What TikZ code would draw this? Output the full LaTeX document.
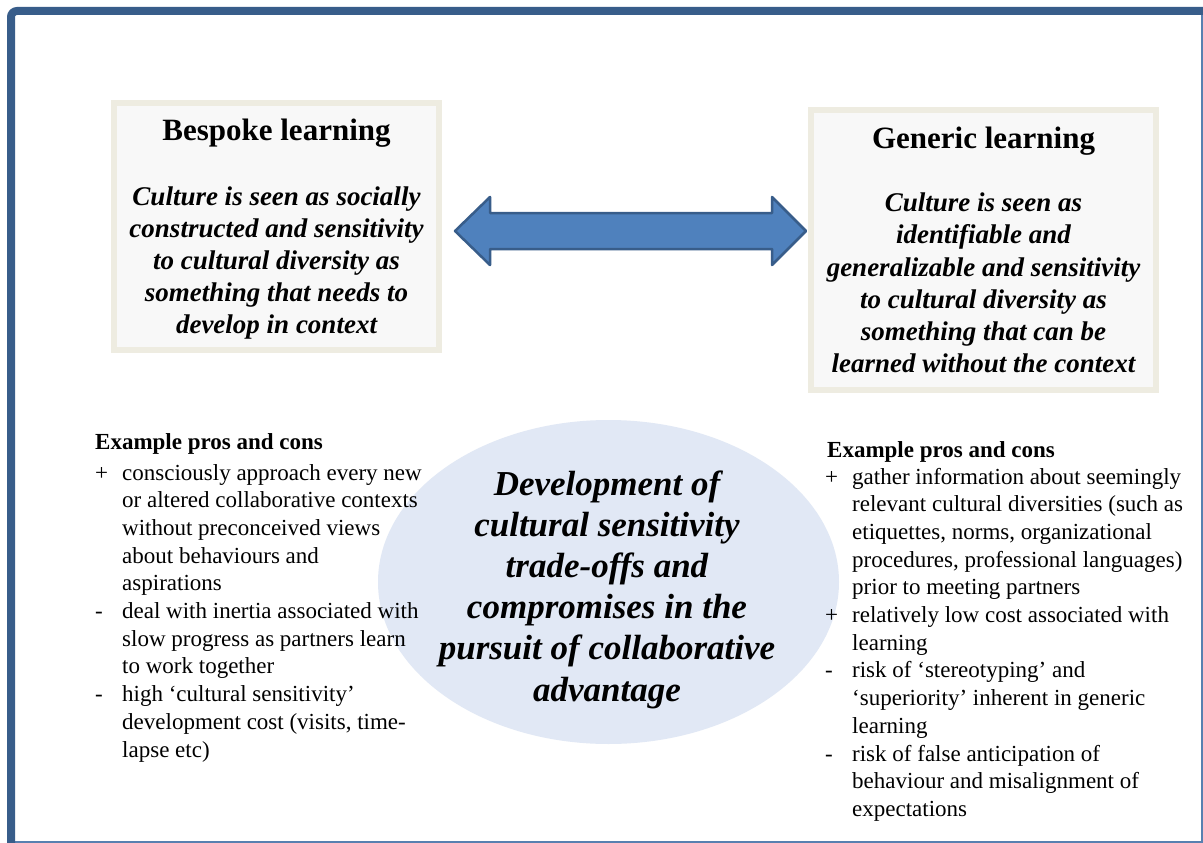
\documentclass[tikz,border=0pt]{standalone}
\usepackage{fontspec}
\setmainfont{Liberation Serif}
\usetikzlibrary{shapes.geometric}
\definecolor{frameblue}{RGB}{56,93,138}
\definecolor{framethin}{RGB}{88,128,176}
\definecolor{boxborder}{RGB}{238,236,225}
\definecolor{boxfill}{RGB}{248,248,248}
\definecolor{arrowfill}{RGB}{79,129,189}
\definecolor{arrowline}{RGB}{56,93,138}
\definecolor{ellfill}{RGB}{225,232,245}
\tikzset{
  learnbox/.style={draw=boxborder, line width=6pt, fill=boxfill, inner sep=0pt},
  titletext/.style={anchor=base, inner sep=0pt, font=\fontsize{31}{32}\selectfont\bfseries},
  bodytext/.style={anchor=base, inner sep=0pt, font=\fontsize{27}{32.15}\selectfont\bfseries\itshape},
  centertext/.style={anchor=base, inner sep=0pt, font=\fontsize{35}{41.2}\selectfont\bfseries\itshape},
  listhead/.style={anchor=base west, inner sep=0pt, font=\fontsize{23}{27.7}\selectfont\bfseries},
  listtext/.style={anchor=base west, inner sep=0pt, font=\fontsize{23}{27.7}\selectfont},
}
\begin{document}
\begin{tikzpicture}[x=1pt,y=-1pt]
\useasboundingbox (0,0) rectangle (1203,843);
\fill[white] (0,0) rectangle (1203,843);
% outer frame
\draw[framethin, line width=1.5pt] (1202,15) -- (1202,842) -- (15,842);
\draw[frameblue, line width=8pt, rounded corners=6pt] (1203,11) -- (11,11) -- (11,843);

% boxes
\node[learnbox, minimum width=325pt, minimum height=247pt] (bespoke) at (276.5,226.5) {};
\node[learnbox, minimum width=345pt, minimum height=280pt] (generic) at (983.5,250) {};

\node[titletext] (bespoketitle) at (276.5,140) {Bespoke learning};
\node[bodytext] (bespokebody) at (276.5,205) {\begin{tabular}[t]{@{}c@{}}
Culture is seen as socially\\
constructed and sensitivity\\
to cultural diversity as\\
something that needs to\\
develop in context
\end{tabular}};

\node[titletext] (generictitle) at (983.5,148) {Generic learning};
\node[bodytext] (genericbody) at (983.5,211.7) {\begin{tabular}[t]{@{}c@{}}
Culture is seen as\\
identifiable and\\
generalizable and sensitivity\\
to cultural diversity as\\
something that can be\\
learned without the context
\end{tabular}};

% double arrow
\draw[arrowline, fill=arrowfill, line width=2.5pt, line join=round]
  (455,231) -- (490,197) -- (490,213) -- (772,213) -- (772,197) -- (806,231)
  -- (772,265) -- (772,249) -- (490,249) -- (490,265) -- cycle;

% central ellipse
\node[ellipse, fill=ellfill, minimum width=461pt, minimum height=324pt, inner sep=0pt] (trade) at (608.5,582) {};
\node[centertext] (tradetext) at (607,495) {\begin{tabular}[t]{@{}c@{}}
Development of\\
cultural sensitivity\\
trade-offs and\\
compromises in the\\
pursuit of collaborative\\
advantage
\end{tabular}};

% left list
\node[listhead] (lhead) at (95,449) {Example pros and cons};
\node[listtext] (litems) at (95,480) {\begin{tabular}[t]{@{}p{27pt}@{}l@{}}
+ & consciously approach every new\\
  & or altered collaborative contexts\\
  & without preconceived views\\
  & about behaviours and\\
  & aspirations\\
- & deal with inertia associated with\\
  & slow progress as partners learn\\
  & to work together\\
- & high ‘cultural sensitivity’\\
  & development cost (visits, time-\\
  & lapse etc)
\end{tabular}};

% right list
\node[listhead] (rhead) at (827,457) {Example pros and cons};
\node[listtext] (ritems) at (825,484) {\begin{tabular}[t]{@{}p{27pt}@{}l@{}}
+ & gather information about seemingly\\
  & relevant cultural diversities (such as\\
  & etiquettes, norms, organizational\\
  & procedures, professional languages)\\
  & prior to meeting partners\\
+ & relatively low cost associated with\\
  & learning\\
- & risk of ‘stereotyping’ and\\
  & ‘superiority’ inherent in generic\\
  & learning\\
- & risk of false anticipation of\\
  & behaviour and misalignment of\\
  & expectations
\end{tabular}};
\end{tikzpicture}
\end{document}
